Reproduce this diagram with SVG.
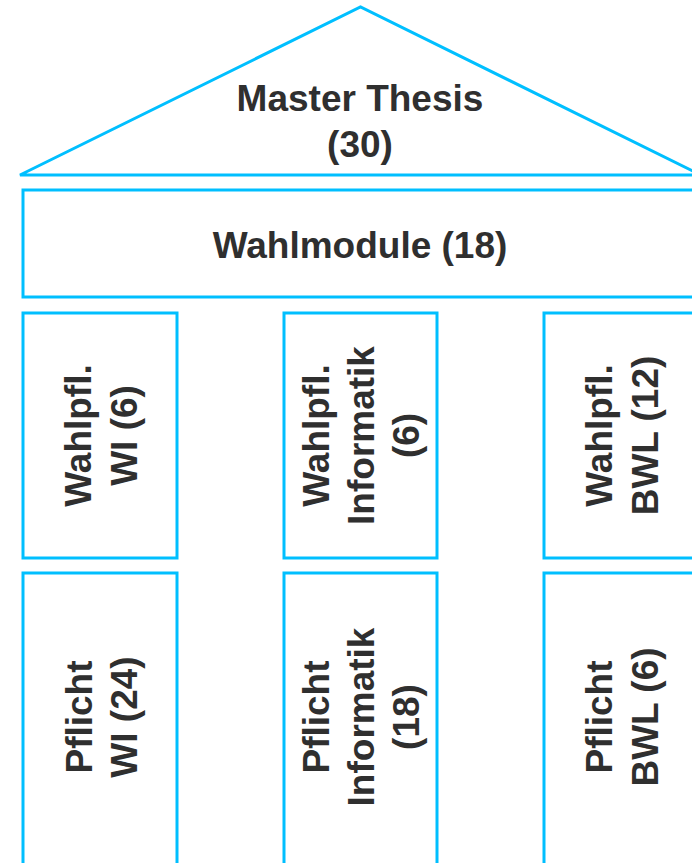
<svg xmlns="http://www.w3.org/2000/svg" width="692" height="863" viewBox="0 0 692 863">
<style>
.s{fill:#ffffff;stroke:#00BFFF;stroke-width:3}
.t{font-family:"Liberation Sans",Arial,sans-serif;font-weight:bold;font-size:37px;fill:#2f2f2f;text-anchor:middle}
</style>
<rect width="692" height="863" fill="#ffffff"/>
<g id="roof">
<polygon class="s" points="20,175 360.5,7 701,175"/>
<text class="t" x="360" y="111">Master Thesis</text>
<text class="t" x="360" y="157">(30)</text>
</g>
<g id="wahlmodule">
<rect class="s" x="23" y="190" width="676" height="107"/>
<text class="t" x="360" y="258">Wahlmodule (18)</text>
</g>
<g id="wahlpfl-wi">
<rect class="s" x="23" y="313" width="154" height="245"/>
<text class="t" transform="translate(91,435.5) rotate(-90)">Wahlpfl.</text>
<text class="t" transform="translate(137,435.5) rotate(-90)">WI (6)</text>
</g>
<g id="wahlpfl-inf">
<rect class="s" x="284" y="313" width="153" height="245"/>
<text class="t" transform="translate(329,435.5) rotate(-90)">Wahlpfl.</text>
<text class="t" transform="translate(374,435.5) rotate(-90)">Informatik</text>
<text class="t" transform="translate(419,435.5) rotate(-90)">(6)</text>
</g>
<g id="wahlpfl-bwl">
<rect class="s" x="544" y="313" width="154" height="245"/>
<text class="t" transform="translate(612,435.5) rotate(-90)">Wahlpfl.</text>
<text class="t" transform="translate(658,435.5) rotate(-90)">BWL (12)</text>
</g>
<g id="pflicht-wi">
<rect class="s" x="23" y="573" width="154" height="293"/>
<text class="t" transform="translate(92,717) rotate(-90)">Pflicht</text>
<text class="t" transform="translate(137,717) rotate(-90)">WI (24)</text>
</g>
<g id="pflicht-inf">
<rect class="s" x="284" y="573" width="153" height="293"/>
<text class="t" transform="translate(329,717) rotate(-90)">Pflicht</text>
<text class="t" transform="translate(374,717) rotate(-90)">Informatik</text>
<text class="t" transform="translate(419,717) rotate(-90)">(18)</text>
</g>
<g id="pflicht-bwl">
<rect class="s" x="544" y="573" width="154" height="293"/>
<text class="t" transform="translate(612,717) rotate(-90)">Pflicht</text>
<text class="t" transform="translate(658,717) rotate(-90)">BWL (6)</text>
</g>
<g id="connectors"></g>
</svg>
